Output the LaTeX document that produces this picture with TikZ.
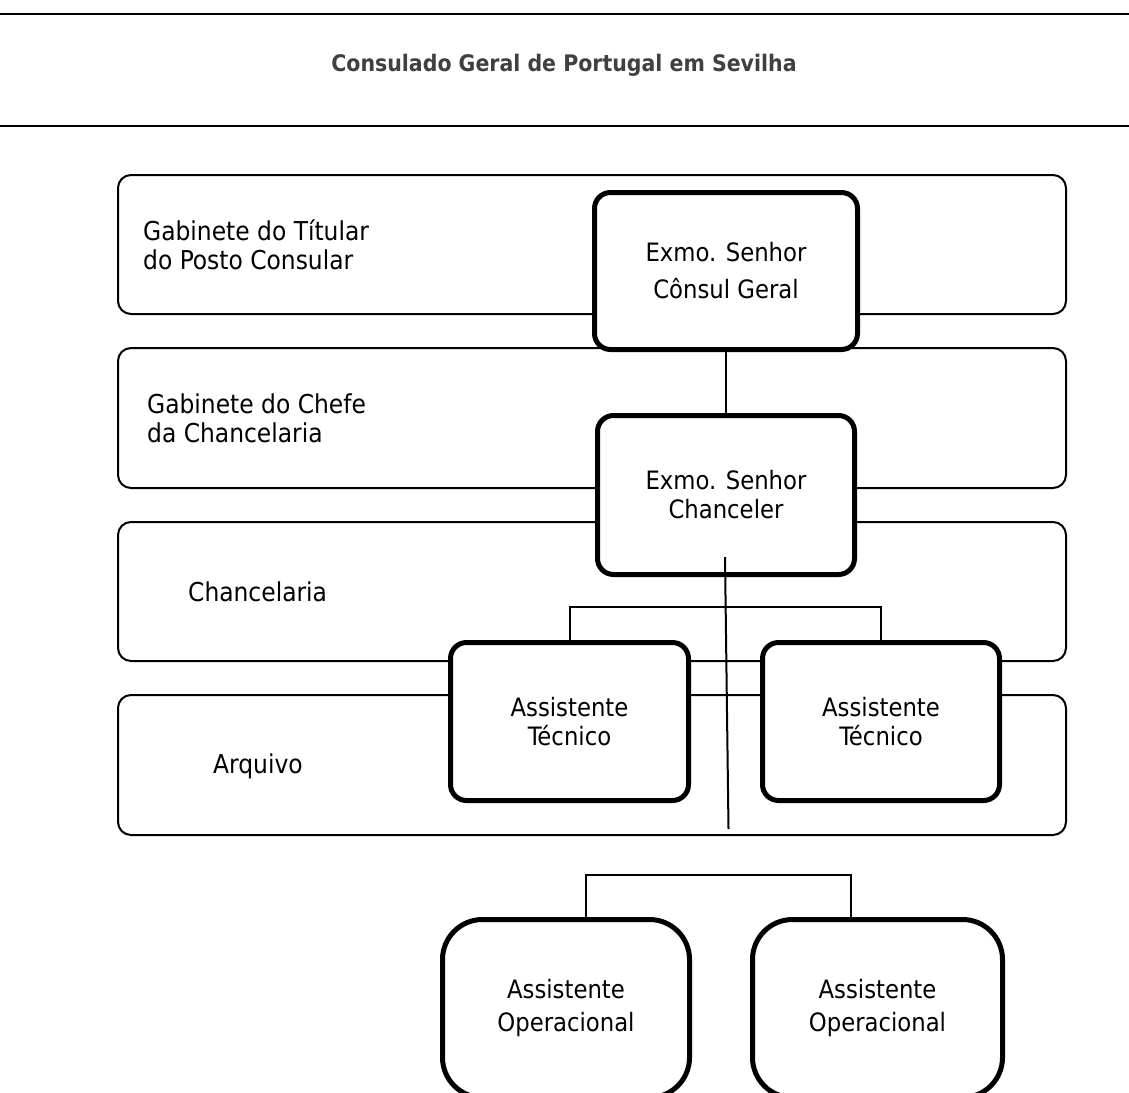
\documentclass[tikz,border=0pt]{standalone}
\usepackage{fontspec}
\setmainfont{DejaVu Sans Condensed}
\definecolor{titlegray}{HTML}{404040}
\begin{document}
\begin{tikzpicture}[x=1pt,y=-1pt,
  layer/.style={draw, line width=2pt, rounded corners=13pt, minimum width=948pt, minimum height=139pt, inner sep=0pt},
  post/.style={draw, fill=white, line width=5pt, rounded corners=16pt, inner sep=0pt, align=center, font=\fontsize{25.3}{29}\selectfont},
  lbl/.style={align=left, inner sep=0pt, font=\fontsize{26}{29}\selectfont},
  link/.style={line width=2pt},
  rule/.style={line width=2.5pt}]
\useasboundingbox (0,0) rectangle (1129,1092);
\fill[white] (0,0) rectangle (1129,1092);
% header
\draw[rule] (0,14) -- (1129,14);
\draw[rule] (0,126) -- (1129,126);
\node[anchor=base, inner sep=0pt, text=titlegray, font=\bfseries\fontsize{22.8}{28}\selectfont] (title) at (564,71) {Consulado Geral de Portugal em Sevilha};
% layer boxes
\node[layer] (L1) at (592,244.5) {};
\node[layer, minimum height=140pt] (L2) at (592,418) {};
\node[layer] (L3) at (592,591.5) {};
\node[layer, minimum height=140pt] (L4) at (592,765) {};
% layer labels
\node[lbl, anchor=west] (t1) at (143,245) {Gabinete do Títular\\do Posto Consular};
\node[lbl, anchor=west] (t2) at (147,418) {Gabinete do Chefe\\da Chancelaria};
\node[lbl, anchor=base west] (t3) at (188,601) {Chancelaria};
\node[lbl, anchor=base west] (t4) at (213,773) {Arquivo};
% posts
\node[post, minimum width=263pt, minimum height=157pt, font=\fontsize{25.3}{37}\selectfont] (consul) at (726,271) {Exmo. Senhor\\Cônsul Geral};
\node[post, minimum width=257pt, minimum height=159pt] (chanc) at (726,495) {Exmo. Senhor\\Chanceler};
\node[post, minimum width=238pt, minimum height=158pt] (tec1) at (569.5,721.5) {Assistente\\Técnico};
\node[post, minimum width=237pt, minimum height=158pt] (tec2) at (881,721.5) {Assistente\\Técnico};
\node[post, rounded corners=40pt, minimum width=247pt, minimum height=178pt, font=\fontsize{25.3}{33}\selectfont] (op1) at (566,1008.5) {Assistente\\Operacional};
\node[post, rounded corners=40pt, minimum width=250pt, minimum height=178pt, font=\fontsize{25.3}{33}\selectfont] (op2) at (877.5,1008.5) {Assistente\\Operacional};
% connectors
\draw[link] (consul.south) -- (chanc.north);
\coordinate (vtop) at (725,557);
\coordinate (vbot) at (728.5,829);
\draw[link] (vtop) -- (vbot);
\draw[link] (tec1.north) -- ++(0,-33) -| (tec2.north);
\draw[link] ([xshift=20pt]op1.north) -- ++(0,-42) -| ([xshift=-26.5pt]op2.north);
\end{tikzpicture}
\end{document}
